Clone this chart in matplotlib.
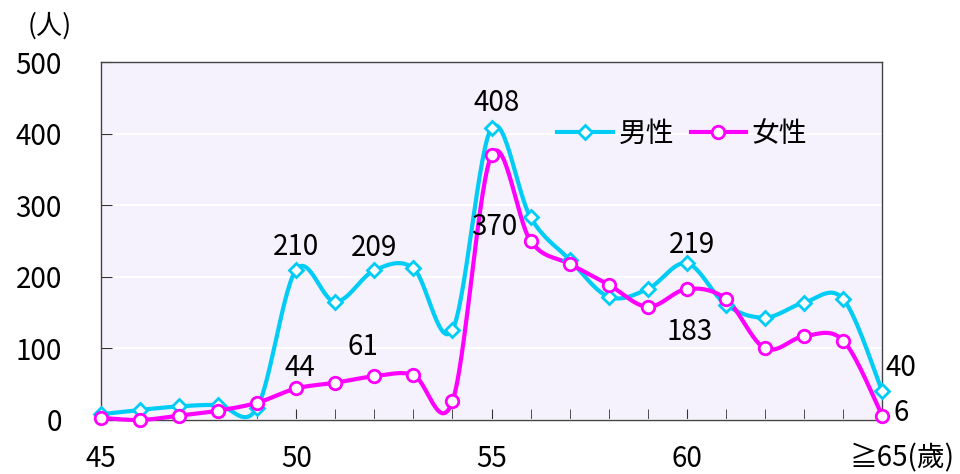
import numpy as np
import matplotlib
matplotlib.use("Agg")
import matplotlib.pyplot as plt
import matplotlib.transforms as mtransforms

plt.rcParams['font.family'] = ['Noto Sans CJK TC', 'DejaVu Sans']

ages = [45, 46, 47, 48, 49, 50, 51, 52, 53, 54, 55,
        56, 57, 58, 59, 60, 61, 62, 63, 64, 65]
male = [8, 14, 19, 21, 17, 210, 165, 209, 212, 126, 408,
        283, 224, 172, 183, 219, 161, 143, 164, 169, 40]
female = [3, 0, 6, 13, 24, 44, 52, 61, 63, 26, 370,
          250, 218, 189, 158, 183, 169, 100, 117, 111, 6]
x_ticks = [45, 50, 55, 60, 65]
x_ticklabels = ['45', '50', '55', '60', '≧65(歲)']
y_ticks = [0, 100, 200, 300, 400, 500]

male_color = '#00CCF5'
female_color = '#FF00FF'


def smooth(xs, ys, n=30):
    # catmull-rom curve through the points, like a spreadsheet "smoothed line"
    p = np.column_stack([xs, ys]).astype(float)
    p = np.vstack([p[0], p, p[-1]])
    out = []
    t = np.linspace(0, 1, n, endpoint=False)[:, None]
    for i in range(1, len(p) - 2):
        p0, p1, p2, p3 = p[i - 1], p[i], p[i + 1], p[i + 2]
        seg = 0.5 * ((2 * p1) + (-p0 + p2) * t
                     + (2 * p0 - 5 * p1 + 4 * p2 - p3) * t ** 2
                     + (-p0 + 3 * p1 - 3 * p2 + p3) * t ** 3)
        out.append(seg)
    out.append(p[-2][None, :])
    out = np.vstack(out)
    return out[:, 0], out[:, 1]


fig = plt.figure(figsize=(9.6, 4.74), dpi=100)
ax = fig.add_axes([0.105, 0.114, 0.814, 0.755])
ax.set_facecolor('#F5F2FE')

for vals, col, mk, ms, lab in [(male, male_color, 'D', 7, '男性'),
                               (female, female_color, 'o', 9, '女性')]:
    sx, sy = smooth(ages, vals)
    ax.plot(sx, sy, color=col, lw=3, solid_capstyle='round', zorder=3,
            clip_on=False)
    ax.plot(ages, vals, ls='none', marker=mk, ms=ms, mfc='white',
            mec=col, mew=2, zorder=4, clip_on=False)
    # legend proxy
    ax.plot([], [], color=col, lw=3, marker=mk, ms=ms, mfc='white',
            mec=col, mew=2, label=lab)

ax.set_xlim(45, 65)
ax.set_ylim(0, 500)
ax.set_yticks(y_ticks)
ax.set_xticks(x_ticks)
ax.set_xticklabels(x_ticklabels)
ax.set_xticks(ages, minor=True)
ax.yaxis.grid(True, color='white', lw=1.5, zorder=0)
ax.set_axisbelow(True)
ax.tick_params(axis='both', direction='in', labelsize=20, length=8,
               color='#333333')
ax.tick_params(axis='x', which='minor', direction='in', length=8,
               color='#333333')
ax.tick_params(axis='y', pad=28)
ax.tick_params(axis='x', pad=17)
for s in ax.spines.values():
    s.set_color('#444444')
    s.set_linewidth(1)

last = ax.get_xticklabels()[-1]
last.set_transform(last.get_transform() +
                   mtransforms.ScaledTranslation(0.2, 0, fig.dpi_scale_trans))

fig.text(0.052, 0.945, '(人)', fontsize=19, ha='center', va='center')

# data labels: (series, index, dx, dy, ha)
labels = [(male, 10, 4, 18, 'center'),
          (male, 5, 0, 16, 'center'),
          (male, 7, 0, 16, 'center'),
          (female, 5, 3, 15, 'center'),
          (female, 7, -8, 21, 'center'),
          (female, 10, 2, -52, 'center'),
          (male, 15, 4, 13, 'center'),
          (female, 15, 2, -31, 'center'),
          (male, 20, 2, 17, 'left'),
          (female, 20, 8, 2, 'left')]
for series, i, dx, dy, ha in labels:
    ax.annotate(str(series[i]), (ages[i], series[i]), xytext=(dx, dy),
                textcoords='offset points', ha=ha, va='center',
                fontsize=20, annotation_clip=False, zorder=5)

ax.legend(loc='center left', bbox_to_anchor=(0.57, 0.8), ncol=2,
          frameon=False, fontsize=20, handlelength=2.0, handletextpad=0.2,
          columnspacing=0.6, borderaxespad=0)

fig.savefig('out.png', dpi=100)
